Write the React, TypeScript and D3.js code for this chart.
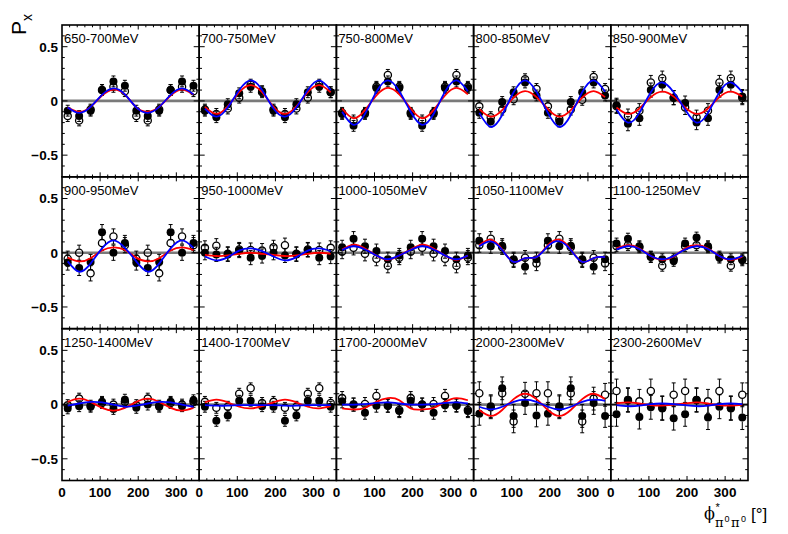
import React from 'react';
import * as d3 from 'd3';

// beam energy bins, one panel each (5 columns x 3 rows)
const energyBins = [
  '650-700MeV', '700-750MeV', '750-800MeV', '800-850MeV', '850-900MeV',
  '900-950MeV', '950-1000MeV', '1000-1050MeV', '1050-1100MeV', '1100-1250MeV',
  '1250-1400MeV', '1400-1700MeV', '1700-2000MeV', '2000-2300MeV', '2300-2600MeV',
];

// phi* bin centres [deg]
const phiBins = [15, 45, 75, 105, 135, 165, 195, 225, 255, 285, 315, 345];

// filled markers
const filledPx = [
  [-0.09, -0.14, -0.09, 0.10, 0.18, 0.14, -0.09, -0.14, -0.09, 0.10, 0.18, 0.14],
  [-0.09, -0.15, -0.03, 0.07, 0.13, 0.09, -0.09, -0.15, -0.03, 0.08, 0.13, 0.08],
  [-0.12, -0.23, -0.12, 0.12, 0.18, 0.12, -0.12, -0.23, -0.12, 0.12, 0.18, 0.12],
  [-0.11, -0.19, -0.01, 0.08, 0.17, 0.05, -0.11, -0.19, -0.01, 0.08, 0.17, 0.05],
  [-0.04, -0.21, -0.16, 0.10, 0.15, 0.03, -0.02, -0.20, -0.16, 0.10, 0.15, 0.04],
  [-0.09, -0.14, -0.085, 0.19, 0.0, 0.09, -0.09, -0.14, -0.085, 0.19, 0.0, 0.09],
  [0.0, -0.015, -0.015, 0.02, -0.045, -0.03, 0.0, -0.025, -0.015, 0.025, -0.045, -0.035],
  [0.05, 0.13, 0.06, 0.015, -0.06, -0.025, 0.05, 0.13, 0.06, 0.015, -0.06, -0.025],
  [0.11, 0.06, 0.065, -0.06, -0.13, -0.06, 0.11, 0.06, 0.065, -0.06, -0.13, -0.06],
  [0.085, 0.13, 0.06, -0.04, -0.06, -0.075, 0.085, 0.14, 0.06, -0.045, -0.06, -0.07],
  [-0.035, -0.015, -0.02, 0.025, -0.04, 0.045, -0.03, 0.0, -0.02, 0.025, -0.015, 0.04],
  [-0.02, -0.15, -0.10, 0.035, 0.035, -0.015, -0.02, -0.15, -0.10, 0.035, 0.035, -0.02],
  [0.03, 0.0, -0.075, -0.01, -0.01, -0.06, 0.035, 0.0, -0.075, -0.005, -0.005, -0.06],
  [-0.085, -0.015, 0.15, -0.105, 0.015, -0.10, -0.085, -0.015, 0.15, -0.105, 0.015, -0.105],
  [-0.09, 0.045, -0.115, -0.025, -0.035, -0.125, -0.09, 0.045, -0.12, -0.02, -0.035, -0.12],
];

// open markers
const openPx = [
  [-0.14, -0.18, -0.08, 0.10, 0.13, 0.09, -0.14, -0.18, -0.08, 0.10, 0.13, 0.09],
  [-0.08, -0.12, -0.07, 0.03, 0.15, 0.08, -0.08, -0.12, -0.07, 0.03, 0.15, 0.08],
  [-0.11, -0.18, -0.11, 0.13, 0.24, 0.13, -0.11, -0.18, -0.11, 0.13, 0.24, 0.13],
  [-0.05, -0.15, -0.08, 0.015, 0.20, 0.11, -0.05, -0.17, -0.08, 0.01, 0.22, 0.11],
  [-0.05, -0.14, -0.09, 0.17, 0.21, 0.03, -0.06, -0.15, -0.09, 0.17, 0.21, 0.03],
  [-0.055, 0.0, -0.19, 0.09, 0.15, 0.07, -0.055, 0.0, -0.19, 0.09, 0.15, 0.07],
  [0.045, 0.065, -0.01, 0.03, 0.025, 0.02, 0.05, 0.07, -0.01, 0.03, 0.025, 0.045],
  [0.01, 0.045, -0.01, -0.055, -0.12, -0.045, 0.01, 0.045, -0.01, -0.055, -0.12, -0.045],
  [0.07, 0.13, 0.05, -0.07, -0.045, -0.10, 0.07, 0.13, 0.05, -0.07, -0.045, -0.10],
  [0.06, 0.07, 0.05, -0.035, -0.12, -0.06, 0.06, 0.07, 0.05, -0.035, -0.12, -0.06],
  [-0.005, 0.055, -0.01, 0.015, 0.0, 0.025, -0.005, 0.055, -0.01, 0.015, 0.0, 0.025],
  [0.025, -0.03, -0.02, 0.10, 0.15, 0.015, 0.025, -0.03, -0.02, 0.10, 0.15, 0.015],
  [0.06, 0.0, 0.005, 0.08, -0.01, -0.05, 0.06, 0.0, 0.005, 0.08, -0.01, -0.05],
  [0.105, -0.025, 0.105, -0.155, 0.10, 0.105, 0.105, -0.025, 0.105, -0.155, 0.055, 0.09],
  [0.125, 0.04, 0.03, 0.125, -0.03, 0.09, 0.125, 0.04, 0.03, 0.125, -0.03, 0.09],
];

// model curves, read at the phi* bin centres
const redModel = [
  [-0.06, -0.10, -0.055, 0.05, 0.105, 0.06, -0.06, -0.10, -0.055, 0.05, 0.105, 0.06],
  [-0.055, -0.12, -0.05, 0.08, 0.145, 0.08, -0.055, -0.12, -0.05, 0.08, 0.145, 0.08],
  [-0.07, -0.16, -0.085, 0.05, 0.12, 0.06, -0.07, -0.16, -0.085, 0.05, 0.12, 0.06],
  [-0.075, -0.145, -0.085, 0.03, 0.09, 0.035, -0.075, -0.145, -0.085, 0.03, 0.09, 0.035],
  [-0.06, -0.12, -0.07, 0.035, 0.085, 0.04, -0.06, -0.12, -0.07, 0.035, 0.085, 0.04],
  [-0.045, -0.08, -0.05, 0.02, 0.05, 0.025, -0.045, -0.08, -0.05, 0.02, 0.05, 0.025],
  [-0.02, -0.03, -0.025, -0.01, 0.0, -0.01, -0.02, -0.03, -0.025, -0.01, 0.0, -0.01],
  [0.03, 0.075, 0.04, -0.025, -0.065, -0.025, 0.03, 0.075, 0.04, -0.025, -0.065, -0.025],
  [0.07, 0.12, 0.03, -0.085, -0.05, -0.04, 0.07, 0.12, 0.03, -0.085, -0.05, -0.04],
  [0.04, 0.07, 0.04, -0.03, -0.065, -0.035, 0.04, 0.07, 0.04, -0.03, -0.065, -0.035],
  [0.025, 0.055, 0.025, -0.03, -0.055, -0.03, 0.025, 0.055, 0.025, -0.03, -0.055, -0.03],
  [0.02, 0.045, 0.02, -0.02, -0.035, -0.015, 0.02, 0.045, 0.02, -0.02, -0.035, -0.015],
  [-0.035, -0.045, -0.03, 0.025, 0.06, 0.04, -0.035, -0.045, -0.03, 0.025, 0.06, 0.04],
  [-0.05, -0.105, -0.05, 0.05, 0.10, 0.05, -0.05, -0.105, -0.05, 0.05, 0.10, 0.05],
  [0.01, 0.02, 0.01, -0.005, -0.01, 0.0, 0.01, 0.02, 0.01, -0.005, -0.01, 0.0],
];

const blueModel = [
  [-0.06, -0.11, -0.055, 0.055, 0.115, 0.06, -0.06, -0.11, -0.055, 0.055, 0.115, 0.06],
  [-0.07, -0.145, -0.06, 0.10, 0.19, 0.10, -0.07, -0.145, -0.06, 0.10, 0.19, 0.10],
  [-0.10, -0.22, -0.12, 0.085, 0.19, 0.09, -0.10, -0.22, -0.12, 0.085, 0.19, 0.09],
  [-0.11, -0.24, -0.13, 0.08, 0.19, 0.085, -0.11, -0.24, -0.13, 0.08, 0.19, 0.085],
  [-0.08, -0.20, -0.11, 0.08, 0.17, 0.08, -0.08, -0.20, -0.11, 0.08, 0.17, 0.08],
  [-0.08, -0.175, -0.10, 0.04, 0.115, 0.045, -0.08, -0.175, -0.10, 0.04, 0.115, 0.045],
  [-0.035, -0.07, -0.04, 0.02, 0.04, 0.015, -0.035, -0.07, -0.04, 0.02, 0.04, 0.015],
  [0.025, 0.06, 0.03, -0.025, -0.06, -0.025, 0.025, 0.06, 0.03, -0.025, -0.06, -0.025],
  [0.06, 0.105, 0.025, -0.085, -0.05, -0.04, 0.06, 0.105, 0.025, -0.085, -0.05, -0.04],
  [0.03, 0.06, 0.035, -0.03, -0.06, -0.03, 0.03, 0.06, 0.035, -0.03, -0.06, -0.03],
  [-0.01, 0.01, 0.025, 0.02, 0.0, -0.02, -0.01, 0.01, 0.025, 0.02, 0.0, -0.02],
  [-0.005, -0.01, -0.01, -0.005, -0.005, -0.005, -0.005, -0.01, -0.01, -0.005, -0.005, -0.005],
  [0.0, 0.0, 0.005, 0.015, 0.02, 0.01, 0.0, 0.0, 0.005, 0.015, 0.02, 0.01],
  [-0.02, -0.045, -0.02, 0.025, 0.045, 0.025, -0.02, -0.045, -0.02, 0.025, 0.045, 0.035],
  [-0.005, -0.015, -0.01, 0.005, 0.01, 0.005, -0.005, -0.015, -0.01, 0.005, 0.01, 0.005],
];

// typical error bar per panel
const filledErr = [0.05, 0.05, 0.05, 0.05, 0.065, 0.07, 0.065, 0.065, 0.065, 0.05, 0.05, 0.05, 0.06, 0.105, 0.11];
const openErr = [0.05, 0.05, 0.05, 0.05, 0.065, 0.07, 0.065, 0.065, 0.065, 0.05, 0.05, 0.05, 0.06, 0.105, 0.11];

const xTickLabels = [0, 100, 200, 300];
const yTickValues = [-0.5, 0, 0.5];
const yTickText = ['\u22120.5', '0', '0.5'];

const W = 788;
const H = 534;
const frame = { left: 62, top: 25, right: 748, bottom: 480.5 };
const nCols = 5;
const nRows = 3;
const SANS = "'Liberation Sans', Arial, Helvetica, sans-serif";
const SERIF = "'DejaVu Serif', 'Liberation Serif', serif";
const R = 4;

export default function App() {
  const colW = (frame.right - frame.left) / nCols;
  const rowH = (frame.bottom - frame.top) / nRows;
  const xMinor = d3.range(20, 360, 20);
  const yMinor = d3.range(-6, 7).map((k) => k / 10);

  const panels = energyBins.map((label, i) => {
    const col = i % nCols;
    const row = Math.floor(i / nCols);
    const x0 = frame.left + col * colW;
    const y0 = frame.top + row * rowH;
    const x = d3.scaleLinear().domain([0, 360]).range([x0, x0 + colW]);
    const y = d3.scaleLinear().domain([-0.7, 0.7]).range([y0 + rowH, y0]);
    const line = d3
      .line<[number, number]>()
      .x((d) => x(d[0]))
      .y((d) => y(d[1]))
      .curve(d3.curveNatural);

    const errBar = (v: number, e: number, k: number) => {
      const cx = x(phiBins[k]);
      const cy = y(v);
      const top = y(v + e);
      const bot = y(v - e);
      return (
        <g key={`e${k}`} stroke="#000" strokeWidth={1}>
          {cy - R > top && <line x1={cx} x2={cx} y1={top} y2={cy - R} />}
          {bot > cy + R && <line x1={cx} x2={cx} y1={cy + R} y2={bot} />}
          <line x1={cx - 2} x2={cx + 2} y1={top} y2={top} />
          <line x1={cx - 2} x2={cx + 2} y1={bot} y2={bot} />
        </g>
      );
    };

    return (
      <g key={label}>
        {/* zero line */}
        <line x1={x(0)} x2={x(360)} y1={y(0)} y2={y(0)} stroke="#7a7a7a" strokeWidth={2.6} />

        {/* ticks on all four sides */}
        <g stroke="#000" strokeWidth={1}>
          {xMinor.map((t) => {
            const len = t % 100 === 0 ? 4.5 : 2.3;
            return (
              <g key={`x${t}`}>
                <line x1={x(t)} x2={x(t)} y1={y(-0.7)} y2={y(-0.7) - len} />
                <line x1={x(t)} x2={x(t)} y1={y(0.7)} y2={y(0.7) + len} />
              </g>
            );
          })}
          {yMinor.map((t) => {
            const len = Math.abs(Math.round(t * 10)) % 5 === 0 ? 5.5 : 2.8;
            return (
              <g key={`y${t}`}>
                <line x1={x(0)} x2={x(0) + len} y1={y(t)} y2={y(t)} />
                <line x1={x(360)} x2={x(360) - len} y1={y(t)} y2={y(t)} />
              </g>
            );
          })}
        </g>

        {/* open markers */}
        {openPx[i].map((v, k) => errBar(v, openErr[i], k))}
        {openPx[i].map((v, k) => (
          <circle key={`o${k}`} cx={x(phiBins[k])} cy={y(v)} r={R - 0.4} fill="none" stroke="#000" strokeWidth={1.3} />
        ))}

        {/* filled markers */}
        {filledPx[i].map((v, k) => errBar(v, filledErr[i], k))}
        {filledPx[i].map((v, k) => (
          <circle key={`f${k}`} cx={x(phiBins[k])} cy={y(v)} r={R} fill="#000" />
        ))}

        {/* model curves */}
        <path
          d={line(phiBins.map((p, k) => [p, redModel[i][k]] as [number, number])) || ''}
          fill="none"
          stroke="#ff0000"
          strokeWidth={1.8}
        />
        <path
          d={line(phiBins.map((p, k) => [p, blueModel[i][k]] as [number, number])) || ''}
          fill="none"
          stroke="#0000ff"
          strokeWidth={1.8}
        />

        <rect x={x0} y={y0} width={colW} height={rowH} fill="none" stroke="#000" strokeWidth={1.6} />

        <text x={x0 + 2} y={y0 + 18} fontFamily={SANS} fontSize={13} fill="#000">
          {label}
        </text>

        {row === nRows - 1 &&
          xTickLabels.map((t) => (
            <text
              key={`xl${t}`}
              x={x(t)}
              y={frame.bottom + 16.5}
              textAnchor="middle"
              fontFamily={SANS}
              fontWeight="bold"
              fontSize={13.5}
            >
              {t}
            </text>
          ))}

        {col === 0 &&
          yTickValues.map((t, k) => (
            <text
              key={`yl${t}`}
              x={frame.left - 4}
              y={y(t)}
              dy="0.36em"
              textAnchor="end"
              fontFamily={SANS}
              fontWeight="bold"
              fontSize={13.5}
            >
              {yTickText[k]}
            </text>
          ))}
      </g>
    );
  });

  return (
    <svg width={W} height={H} style={{ position: 'absolute', left: 0, top: 0 }}>
      <rect width={W} height={H} fill="#fff" />
      {panels}

      {/* y title P_x */}
      <text transform="translate(26,35) rotate(-90)" fontFamily={SANS} fontSize={21}>
        P
        <tspan fontSize={14} dy={6}>
          x
        </tspan>
      </text>

      {/* x title: phi*_{pi0 pi0} [deg] */}
      <text fontFamily={SANS} fill="#000">
        <tspan x={704} y={519} fontFamily={SERIF} fontSize={16}>
          {'\u03d5'}
        </tspan>
        <tspan x={715.5} y={511} fontSize={11}>
          *
        </tspan>
        <tspan x={715} y={527} fontFamily={SERIF} fontSize={13}>
          {'\u03c0'}
        </tspan>
        <tspan x={724.5} y={522} fontSize={9}>
          0
        </tspan>
        <tspan x={731} y={527} fontFamily={SERIF} fontSize={13}>
          {'\u03c0'}
        </tspan>
        <tspan x={741} y={522} fontSize={9}>
          0
        </tspan>
        <tspan x={751} y={520} fontSize={17}>
          [°]
        </tspan>
      </text>
    </svg>
  );
}
